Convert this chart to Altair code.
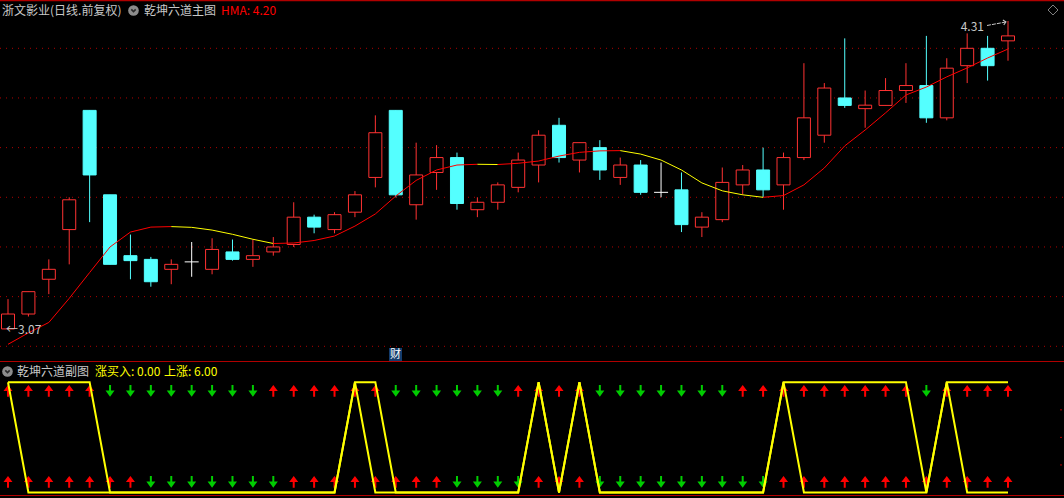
import altair as alt
import pandas as pd

# ---------------- data ----------------
opens = [3.07, 3.13, 3.27, 3.47, 3.95, 3.61, 3.365, 3.35, 3.31, 3.34,
         3.31, 3.38, 3.35, 3.38, 3.41, 3.52, 3.47, 3.54, 3.68, 3.95,
         3.57, 3.70, 3.76, 3.55, 3.58, 3.64, 3.73, 3.89, 3.75, 3.80,
         3.68, 3.73, 3.62, 3.63, 3.48, 3.51, 3.65, 3.71, 3.65, 3.76,
         3.85, 4.00, 3.957, 3.97, 4.03, 4.05, 3.92, 4.13, 4.20, 4.23]
closes = [3.13, 3.22, 3.31, 3.59, 3.69, 3.33, 3.345, 3.26, 3.33, 3.34,
          3.39, 3.35, 3.365, 3.40, 3.52, 3.48, 3.53, 3.61, 3.86, 3.61,
          3.69, 3.76, 3.575, 3.58, 3.65, 3.75, 3.85, 3.76, 3.82, 3.71,
          3.73, 3.62, 3.62, 3.49, 3.52, 3.66, 3.71, 3.63, 3.76, 3.92,
          4.04, 3.97, 3.971, 4.03, 4.05, 3.92, 4.12, 4.20, 4.13, 4.25]
highs = [3.19, 3.22, 3.35, 3.60, 3.95, 3.61, 3.45, 3.36, 3.35, 3.42,
         3.435, 3.43, 3.43, 3.44, 3.58, 3.53, 3.54, 3.625, 3.93, 3.95,
         3.82, 3.81, 3.78, 3.60, 3.66, 3.78, 3.87, 3.92, 3.82, 3.83,
         3.76, 3.75, 3.74, 3.70, 3.54, 3.72, 3.73, 3.80, 3.78, 4.14,
         4.06, 4.24, 4.03, 4.08, 4.14, 4.25, 4.16, 4.26, 4.25, 4.31]
lows = [3.07, 3.12, 3.21, 3.33, 3.50, 3.33, 3.27, 3.24, 3.25, 3.28,
        3.29, 3.345, 3.32, 3.365, 3.40, 3.455, 3.455, 3.52, 3.64, 3.60,
        3.51, 3.63, 3.55, 3.52, 3.55, 3.62, 3.66, 3.74, 3.70, 3.67,
        3.65, 3.61, 3.60, 3.46, 3.44, 3.50, 3.61, 3.60, 3.55, 3.75,
        3.82, 3.96, 3.88, 3.97, 3.98, 3.90, 3.91, 4.06, 4.07, 4.15]
hma = [3.008, 3.054, 3.096, 3.193, 3.297, 3.400, 3.460, 3.480, 3.482, 3.479,
       3.468, 3.451, 3.431, 3.414, 3.416, 3.426, 3.444, 3.484, 3.533, 3.605,
       3.668, 3.710, 3.730, 3.733, 3.732, 3.737, 3.746, 3.766, 3.781, 3.787,
       3.788, 3.774, 3.750, 3.710, 3.658, 3.626, 3.610, 3.600, 3.607, 3.650,
       3.718, 3.807, 3.871, 3.940, 4.012, 4.044, 4.085, 4.121, 4.161, 4.197]
grid_levels = [3.0, 3.2, 3.4, 3.6, 3.8, 4.0, 4.2]

# sub panel (乾坤六道副图)
buy_line = [6, 0, 0, 0, 0, 0, 0, 0, 0, 0,
            0, 0, 0, 0, 0, 0, 0, 6, 0, 0,
            0, 0, 0, 0, 0, 0, 6, 0, 6, 0,
            0, 0, 0, 0, 0, 0, 0, 0, 6, 0,
            0, 0, 0, 0, 0, 0, 6, 0, 0, 0]
rise_line = [6, 6, 6, 6, 6, 0, 0, 0, 0, 0,
             0, 0, 0, 0, 0, 0, 0, 6, 6, 0,
             0, 0, 0, 0, 0, 0, 6, 0, 6, 0,
             0, 0, 0, 0, 0, 0, 0, 0, 6, 6,
             6, 6, 6, 6, 6, 0, 6, 6, 6, 6]
top_arrows = list("UUUUUDDDDDDDDUUUUUUDDDDDDUUUUDDDDDDDUUUUUUUUUDUUUU")
bottom_arrows = list("UUUUUUUDDDDDDDUUUUUUUUDDDDUUUDDDDDDDDDUUUUUUUUUUUU")

n = len(opens)
idx = list(range(n))

# ---------------- styling ----------------
FONT = "Noto Sans CJK SC"
RED = "#FF3232"
CYAN = "#54FFFF"
WHITE = "#FFFFFF"
GRAY = "#C8C8C8"
YEL = "#FFFF00"
BORDER = "#B00000"

X_SCALE = alt.Scale(domain=[0, n - 1], range=[8, 1008], nice=False, zero=False, padding=0)
MAIN_Y = alt.Scale(domain=[3.0, 4.2], range=[346.3, 48.3], nice=False, zero=False, padding=0)
SUB_Y = alt.Scale(domain=[0, 6], range=[492.5, 382.3], nice=False, zero=False, padding=0)
ROW_Y = alt.Scale(type="point", domain=["top", "bottom"], range=[390.8, 481.8], padding=0)

def X(field="i"):
    return alt.X(f"{field}:Q", scale=X_SCALE, axis=None)

# ---------------- tables ----------------
candles = pd.DataFrame({"i": idx, "o": opens, "h": highs, "l": lows, "c": closes})
candles["kind"] = [
    "up" if c > o else ("down" if c < o else "doji") for o, c in zip(opens, closes)
]
segs = pd.DataFrame({
    "i": idx[:-1], "i2": idx[1:], "v": hma[:-1], "v2": hma[1:],
})
segs["dir"] = ["rise" if b >= a else "fall" for a, b in zip(hma[:-1], hma[1:])]
grid = pd.DataFrame({"p": grid_levels})
sub_lines = pd.DataFrame({
    "i": idx + idx,
    "v": buy_line + rise_line,
    "s": ["buy"] * n + ["rise"] * n,
})
arrows = pd.DataFrame({
    "i": idx + idx,
    "row": ["top"] * n + ["bottom"] * n,
    "d": top_arrows + bottom_arrows,
})

UP_PATH = "M0,-1L0.77,0.03L0.17,0.03L0.17,1L-0.17,1L-0.17,0.03L-0.77,0.03Z"
DOWN_PATH = "M0,1L0.77,-0.03L0.17,-0.03L0.17,-1L-0.17,-1L-0.17,-0.03L-0.77,-0.03Z"

# ---------------- layers ----------------
grid_layer = alt.Chart(grid).mark_rule(color=BORDER, strokeDash=[1, 5], strokeWidth=1).encode(
    y=alt.Y("p:Q", scale=MAIN_Y, axis=None), x=alt.value(0), x2=alt.value(1064)
)

kind_color = alt.Scale(domain=["up", "down", "doji"], range=[RED, CYAN, WHITE])
wicks = alt.Chart(candles).mark_rule(strokeWidth=1).encode(
    x=X(), y=alt.Y("l:Q", scale=MAIN_Y, axis=None), y2="h:Q",
    color=alt.Color("kind:N", scale=kind_color, legend=None),
)
bodies = alt.Chart(candles).transform_filter("datum.kind != 'doji'").mark_bar(size=13, strokeWidth=1).encode(
    x=X(), y=alt.Y("o:Q", scale=MAIN_Y, axis=None), y2="c:Q",
    fill=alt.Fill("kind:N", scale=alt.Scale(domain=["up", "down"], range=["#000000", CYAN]), legend=None),
    stroke=alt.Stroke("kind:N", scale=alt.Scale(domain=["up", "down"], range=[RED, CYAN]), legend=None),
)
doji = alt.Chart(candles).transform_filter("datum.kind == 'doji'").mark_tick(
    orient="horizontal", size=14, thickness=1, color=WHITE, opacity=1
).encode(x=X(), y=alt.Y("o:Q", scale=MAIN_Y, axis=None))

hma_layer = alt.Chart(segs).mark_rule(strokeWidth=1).encode(
    x=X(), x2="i2:Q", y=alt.Y("v:Q", scale=MAIN_Y, axis=None), y2="v2:Q",
    color=alt.Color("dir:N", scale=alt.Scale(domain=["rise", "fall"], range=["#FF0000", YEL]), legend=None),
)

low_i = lows.index(min(lows))
high_i = highs.index(max(highs))
low_lbl = alt.Chart(pd.DataFrame({"i": [low_i], "p": [lows[low_i]], "t": ["←" + f"{lows[low_i]:.2f}"]})).mark_text(
    align="left", baseline="middle", dx=-2, dy=1, font=FONT, fontSize=12, color=GRAY
).encode(x=X(), y=alt.Y("p:Q", scale=MAIN_Y, axis=None), text="t:N")
high_df = pd.DataFrame({"i": [high_i], "p": [highs[high_i]], "t": [f"{highs[high_i]:.2f}"]})
high_lbl = alt.Chart(high_df).mark_text(
    align="right", baseline="middle", dx=-24, dy=6, font=FONT, fontSize=12, color=GRAY
).encode(x=X(), y=alt.Y("p:Q", scale=MAIN_Y, axis=None), text="t:N")
high_arrow = alt.Chart(high_df).mark_rule(
    color=GRAY, strokeWidth=1, strokeDash=[4, 1], xOffset=-21, yOffset=4.5, x2Offset=-2, y2Offset=1
).encode(x=X(), x2="i:Q", y=alt.Y("p:Q", scale=MAIN_Y, axis=None), y2="p:Q")
high_head = alt.Chart(high_df).mark_point(
    shape="M-1,-0.9L0,0L-1,0.9", filled=False, size=30, strokeWidth=1, color=GRAY, opacity=1,
    xOffset=-2, yOffset=1, angle=350
).encode(x=X(), y=alt.Y("p:Q", scale=MAIN_Y, axis=None))

sub_arrows = alt.Chart(arrows).mark_point(filled=True, size=137, opacity=1).encode(
    x=X(), y=alt.Y("row:N", scale=ROW_Y, axis=None),
    shape=alt.Shape("d:N", scale=alt.Scale(domain=["U", "D"], range=[UP_PATH, DOWN_PATH]), legend=None),
    color=alt.Color("d:N", scale=alt.Scale(domain=["U", "D"], range=["#FF0000", "#00CC00"]), legend=None),
)
sub_line_layer = alt.Chart(sub_lines).mark_line(color=YEL, strokeWidth=2, interpolate="linear").encode(
    x=X(), y=alt.Y("v:Q", scale=SUB_Y, axis=None), detail="s:N", order="i:Q"
)
sub_ticks = alt.Chart(pd.DataFrame({"v": [1.5, 3.0, 4.5]})).mark_rule(color=BORDER).encode(
    y=alt.Y("v:Q", scale=SUB_Y, axis=None), x=alt.value(1060), x2=alt.value(1062)
)

one = pd.DataFrame({"a": [0]})

def hline(y, w=1):
    return alt.Chart(one).mark_rule(color=BORDER, strokeWidth=w).encode(
        y=alt.value(y), x=alt.value(0), x2=alt.value(1064)
    )

def label(text, x, y, color, size=12, align="left"):
    return alt.Chart(pd.DataFrame({"t": [text]})).mark_text(
        align=align, baseline="middle", font=FONT, fontSize=size, color=color
    ).encode(x=alt.value(x), y=alt.value(y), text="t:N")

def icon(x, y):
    circ = alt.Chart(one).mark_point(shape="circle", filled=True, size=113, color="#8C8C8C", opacity=1).encode(
        x=alt.value(x), y=alt.value(y)
    )
    chev = alt.Chart(one).mark_point(shape="M-0.7,-0.35L0,0.35L0.7,-0.35", filled=False, size=40,
                                     strokeWidth=1.6, color="#2A2A2A", opacity=1).encode(
        x=alt.value(x), y=alt.value(y)
    )
    return [circ, chev]

cai_box = alt.Chart(one).mark_rect(color="#143C6C").encode(
    x=alt.value(389), x2=alt.value(402), y=alt.value(348), y2=alt.value(361)
)
cai_txt = label("财", 395.5, 354.5, WHITE, size=11, align="center")

diamond = alt.Chart(one).mark_point(shape="diamond", filled=False, size=100, color="#808080",
                                    strokeWidth=1, opacity=1).encode(x=alt.value(1053), y=alt.value(10))

layers = [
    grid_layer, wicks, bodies, doji, hma_layer,
    low_lbl, high_lbl, high_arrow, high_head,
    sub_arrows, sub_line_layer, sub_ticks,
    hline(0.5, 1.5), hline(361.5), hline(495.5),
    cai_box, cai_txt, diamond,
    label("浙文影业(日线.前复权)", 2, 10.5, GRAY),
    *icon(133.5, 10.5),
    label("乾坤六道主图", 144, 10.5, GRAY),
    label(f"HMA: {hma[-1]:.2f}", 221, 10.5, "#FF0000"),
    *icon(7.5, 371.5),
    label("乾坤六道副图", 17, 371.5, GRAY),
    label(f"涨买入: {buy_line[-1]:.2f}", 95, 371.5, YEL),
    label(f"上涨: {rise_line[-1]:.2f}", 164, 371.5, YEL),
]

chart = alt.layer(*layers).resolve_scale(
    y="independent", color="independent", fill="independent",
    stroke="independent", shape="independent"
).properties(
    width=1064, height=498, padding=0, autosize="none", background="#000000"
).configure_view(stroke=None)

chart.save("out.html", embed_options={
    "renderer": "svg", "actions": False,
    "defaultStyle": "body{margin:0;padding:0;background:#000000;overflow:hidden}"
})
